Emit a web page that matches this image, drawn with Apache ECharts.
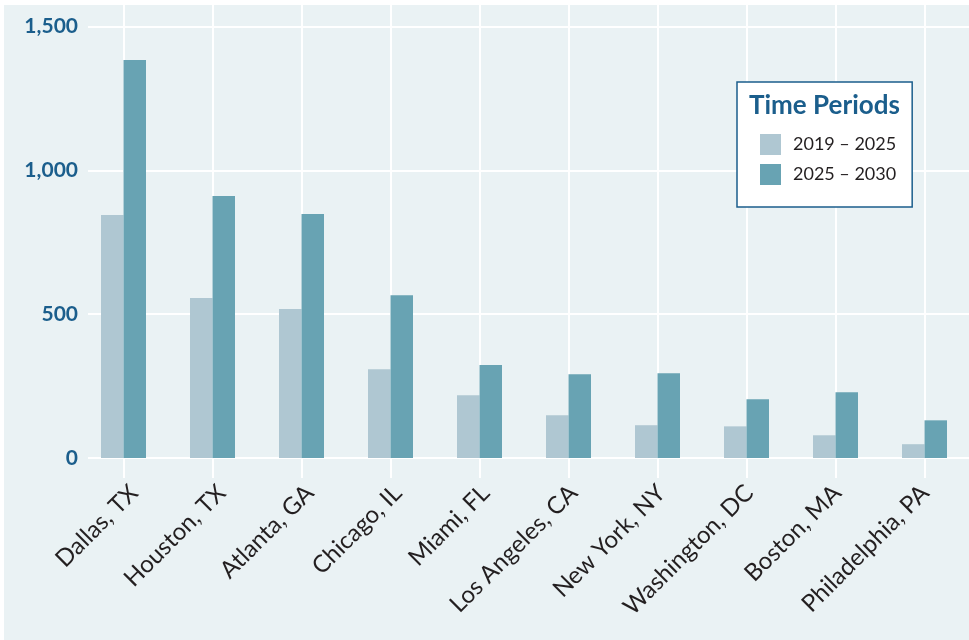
<!DOCTYPE html>
<html>
<head>
<meta charset="utf-8">
<script src="https://cdn.jsdelivr.net/npm/echarts@6/dist/echarts.min.js"></script>
<style>
  html, body { margin: 0; padding: 0; background: #ffffff; }
  #panel { position: absolute; left: 4px; top: 5px; width: 965px; height: 635px; background: #EAF2F4; }
  #chart { position: absolute; left: 0; top: 0; width: 969px; height: 640px; }
</style>
</head>
<body>
<div id="panel"></div>
<div id="chart"></div>
<script>
// ---- data ----
const categories = ['Dallas, TX', 'Houston, TX', 'Atlanta, GA', 'Chicago, IL', 'Miami, FL',
  'Los Angeles, CA', 'New York, NY', 'Washington, DC', 'Boston, MA', 'Philadelphia, PA'];
const seriesNames = ['2019 \u2013 2025', '2025 \u2013 2030'];
const period2019_2025 = [845, 556, 518, 309, 218, 149, 114, 110, 79, 48];
const period2025_2030 = [1384, 911, 848, 566, 323, 291, 295, 204, 229, 131];
const yTicks = [0, 500, 1000, 1500];
const legendTitle = 'Time Periods';

const BLUE = '#1B5E8C';
const LIGHT = '#AFC7D2';
const DARK = '#68A3B3';
const PANEL = '#EAF2F4';
const FONT = 'Lato, "Open Sans", sans-serif';

const chart = echarts.init(document.getElementById('chart'), null, { renderer: 'canvas' });

const option = {
  backgroundColor: 'transparent',
  animation: false,
  title: {
    text: legendTitle,
    left: 749,
    top: 93,
    padding: 0,
    textStyle: { fontFamily: FONT, fontWeight: 'bold', fontSize: 26, color: BLUE }
  },
  legend: {
    orient: 'vertical',
    left: 737,
    top: 82,
    icon: 'rect',
    itemWidth: 21,
    itemHeight: 21,
    itemGap: 9,
    padding: [52, 16, 22, 23],
    backgroundColor: '#ffffff',
    borderColor: BLUE,
    borderWidth: 1.5,
    borderRadius: 0,
    data: seriesNames,
    textStyle: { fontFamily: FONT, fontSize: 18, color: '#231F20', padding: [0, 0, 0, 7] }
  },
  grid: [
    { left: 79, top: 5, width: 890, height: 453, containLabel: false },
    { left: 90, top: 5, width: 890, height: 453, containLabel: false }
  ],
  xAxis: [
    {
      type: 'category',
      gridIndex: 0,
      data: categories,
      axisLine: { show: false },
      axisTick: { show: true, alignWithLabel: true, interval: 0, length: 20, lineStyle: { color: '#ffffff', width: 2 } },
      axisLabel: { show: false, interval: 0 },
      splitLine: { show: true, alignWithLabel: true, interval: 0, lineStyle: { color: '#ffffff', width: 2 } }
    },
    {
      type: 'category',
      gridIndex: 1,
      data: categories,
      axisLine: { show: false },
      axisTick: { show: false },
      splitLine: { show: false },
      axisLabel: {
        show: true, interval: 0, rotate: 45, margin: 31,
        fontFamily: FONT, fontSize: 24, color: '#231F20'
      }
    }
  ],
  yAxis: [
    {
      type: 'value',
      gridIndex: 0,
      min: yTicks[0],
      max: 1575,
      interval: 500,
      axisLine: { show: false },
      axisTick: { show: false },
      splitLine: { show: true, showMaxLine: false, lineStyle: { color: '#ffffff', width: 2 } },
      axisLabel: {
        margin: 1,
        showMaxLabel: false,
        fontFamily: FONT, fontWeight: 'bold', fontSize: 21, color: BLUE,
        padding: [0, 0, 6, 0],
        formatter: function (v) {
          return yTicks.indexOf(v) >= 0 ? String(v).replace(/\B(?=(\d{3})+(?!\d))/g, ',') : '';
        }
      }
    },
    { type: 'value', gridIndex: 1, show: false }
  ],
  graphic: [
    {
      type: 'rect',
      z: 1,
      silent: true,
      shape: { x: 79, y: 5, width: 9, height: 465 },
      style: { fill: PANEL }
    }
  ],
  series: [
    {
      name: seriesNames[0],
      type: 'bar',
      xAxisIndex: 0, yAxisIndex: 0,
      data: period2019_2025,
      barWidth: 22.5,
      barGap: '0%',
      itemStyle: { color: LIGHT }
    },
    {
      name: seriesNames[1],
      type: 'bar',
      xAxisIndex: 0, yAxisIndex: 0,
      data: period2025_2030,
      barWidth: 22.5,
      barGap: '0%',
      itemStyle: { color: DARK }
    }
  ]
};

chart.setOption(option);
</script>
</body>
</html>
